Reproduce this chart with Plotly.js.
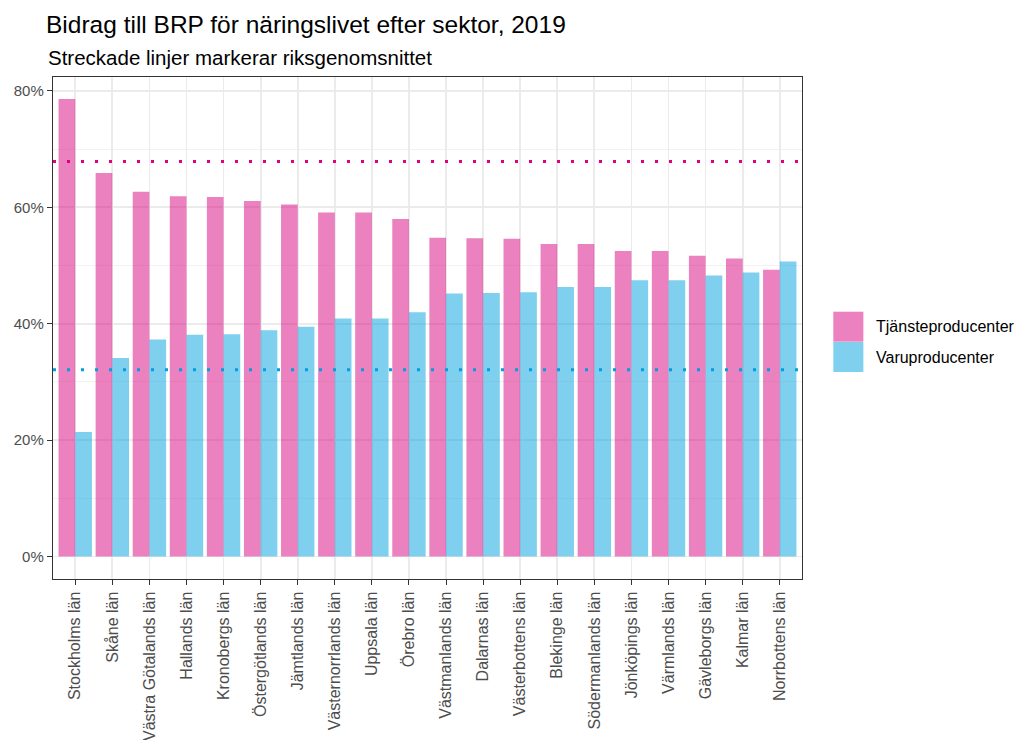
<!DOCTYPE html>
<html>
<head>
<meta charset="utf-8">
<script src="https://cdn.plot.ly/plotly-3.0.1.min.js"></script>
<style>html,body{margin:0;padding:0;background:#fff;}#chart{width:1016px;height:740px;}</style>
</head>
<body>
<div id="chart"></div>
<script>
// ---- data ----
const regions = ["Stockholms län","Skåne län","Västra Götalands län","Hallands län","Kronobergs län",
  "Östergötlands län","Jämtlands län","Västernorrlands län","Uppsala län","Örebro län",
  "Västmanlands län","Dalarnas län","Västerbottens län","Blekinge län","Södermanlands län",
  "Jönköpings län","Värmlands län","Gävleborgs län","Kalmar län","Norrbottens län"];
const seriesNames = ["Tjänsteproducenter","Varuproducenter"];
const tjanste = [78.6,65.9,62.7,61.9,61.8,61.1,60.5,59.1,59.1,58.0,54.8,54.7,54.6,53.7,53.7,52.5,52.5,51.7,51.2,49.3];
const varu    = [21.4,34.1,37.3,38.1,38.2,38.9,39.5,40.9,40.9,42.0,45.2,45.3,45.4,46.3,46.3,47.5,47.5,48.3,48.8,50.7];
const averages = [67.9, 32.1]; // riksgenomsnitt: tjänste, varu
const yTicks = [0,20,40,60,80];

// ---- style / layout ----
const W = 1016, H = 740;
const L = 53.3, R = 801.7, T = 77, B = 579;
const pw = R - L, ph = B - T;
const px2x = p => (p - L) / pw;
const px2y = p => (B - p) / ph;
const fillCols = ["rgba(216,4,128,0.5)","rgba(0,160,221,0.5)"];
const lineCols = ["#E0007E","#009FE3"];
const FONT = "Liberation Sans, Arial, sans-serif";

const traces = [tjanste, varu].map((vals, i) => ({
  type: "bar", x: regions, y: vals, name: seriesNames[i],
  marker: {color: fillCols[i], line: {width: 0}},
  showlegend: false, hoverinfo: "x+y"
}));

const shapes = averages.map((v, i) => ({
  type: "line", xref: "paper", x0: 0, x1: 1, yref: "y", y0: v, y1: v,
  line: {color: lineCols[i], width: 3, dash: "3px,11px"}, layer: "above"
}));
// legend keys
const keyTop = [311.7, 342];
seriesNames.forEach((n, i) => {
  shapes.push({type: "rect", xref: "paper", yref: "paper",
    x0: px2x(833), x1: px2x(863), y0: px2y(keyTop[i]), y1: px2y(keyTop[i] + 30),
    fillcolor: fillCols[i], line: {width: 0}});
});

const annotations = [
  {text: "Streckade linjer markerar riksgenomsnittet", xref: "paper", yref: "paper",
   x: px2x(46), y: px2y(57), xanchor: "left", yanchor: "middle", showarrow: false,
   font: {family: FONT, size: 20.5, color: "#000"}}
];
seriesNames.forEach((n, i) => {
  annotations.push({text: n, xref: "paper", yref: "paper",
    x: px2x(874), y: px2y(keyTop[i] + 15), xanchor: "left", yanchor: "middle",
    showarrow: false, font: {family: FONT, size: 16, color: "#000"}});
});

const layout = {
  width: W, height: H,
  margin: {l: L, r: W - R, t: T, b: H - B, pad: 0},
  paper_bgcolor: "#fff", plot_bgcolor: "#fff",
  font: {family: FONT},
  title: {text: "Bidrag till BRP för näringslivet efter sektor, 2019",
    xref: "container", yref: "container", x: 46 / W, xanchor: "left",
    y: 1 - 24 / H, yanchor: "middle",
    font: {family: FONT, size: 24.5, color: "#000"}},
  barmode: "group", bargap: 0.1, bargroupgap: 0,
  xaxis: {type: "category", range: [-0.6, regions.length - 0.4],
    tickangle: -90, ticks: "outside", ticklen: 5, tickcolor: "#333", tickwidth: 1,
    tickfont: {family: FONT, size: 16, color: "#4D4D4D"},
    showgrid: true, gridcolor: "#EBEBEB", gridwidth: 1.8,
    showline: true, mirror: true, linecolor: "#333", linewidth: 1.2,
    zeroline: false, fixedrange: true},
  yaxis: {range: [-3.85, 82.4], tickvals: yTicks, ticktext: yTicks.map(v => v + "%"),
    ticks: "outside", ticklen: 5, tickcolor: "#333", tickwidth: 1,
    tickfont: {family: FONT, size: 15, color: "#4D4D4D"},
    showgrid: true, gridcolor: "#EBEBEB", gridwidth: 1.8,
    minor: {dtick: 10, tick0: 0, showgrid: true, gridcolor: "#F2F2F2", gridwidth: 1, ticks: ""},
    showline: true, mirror: true, linecolor: "#333", linewidth: 1.2,
    zeroline: false, fixedrange: true},
  shapes: shapes,
  annotations: annotations,
  showlegend: false
};

Plotly.newPlot("chart", traces, layout, {displayModeBar: false, staticPlot: true});
</script>
</body>
</html>
